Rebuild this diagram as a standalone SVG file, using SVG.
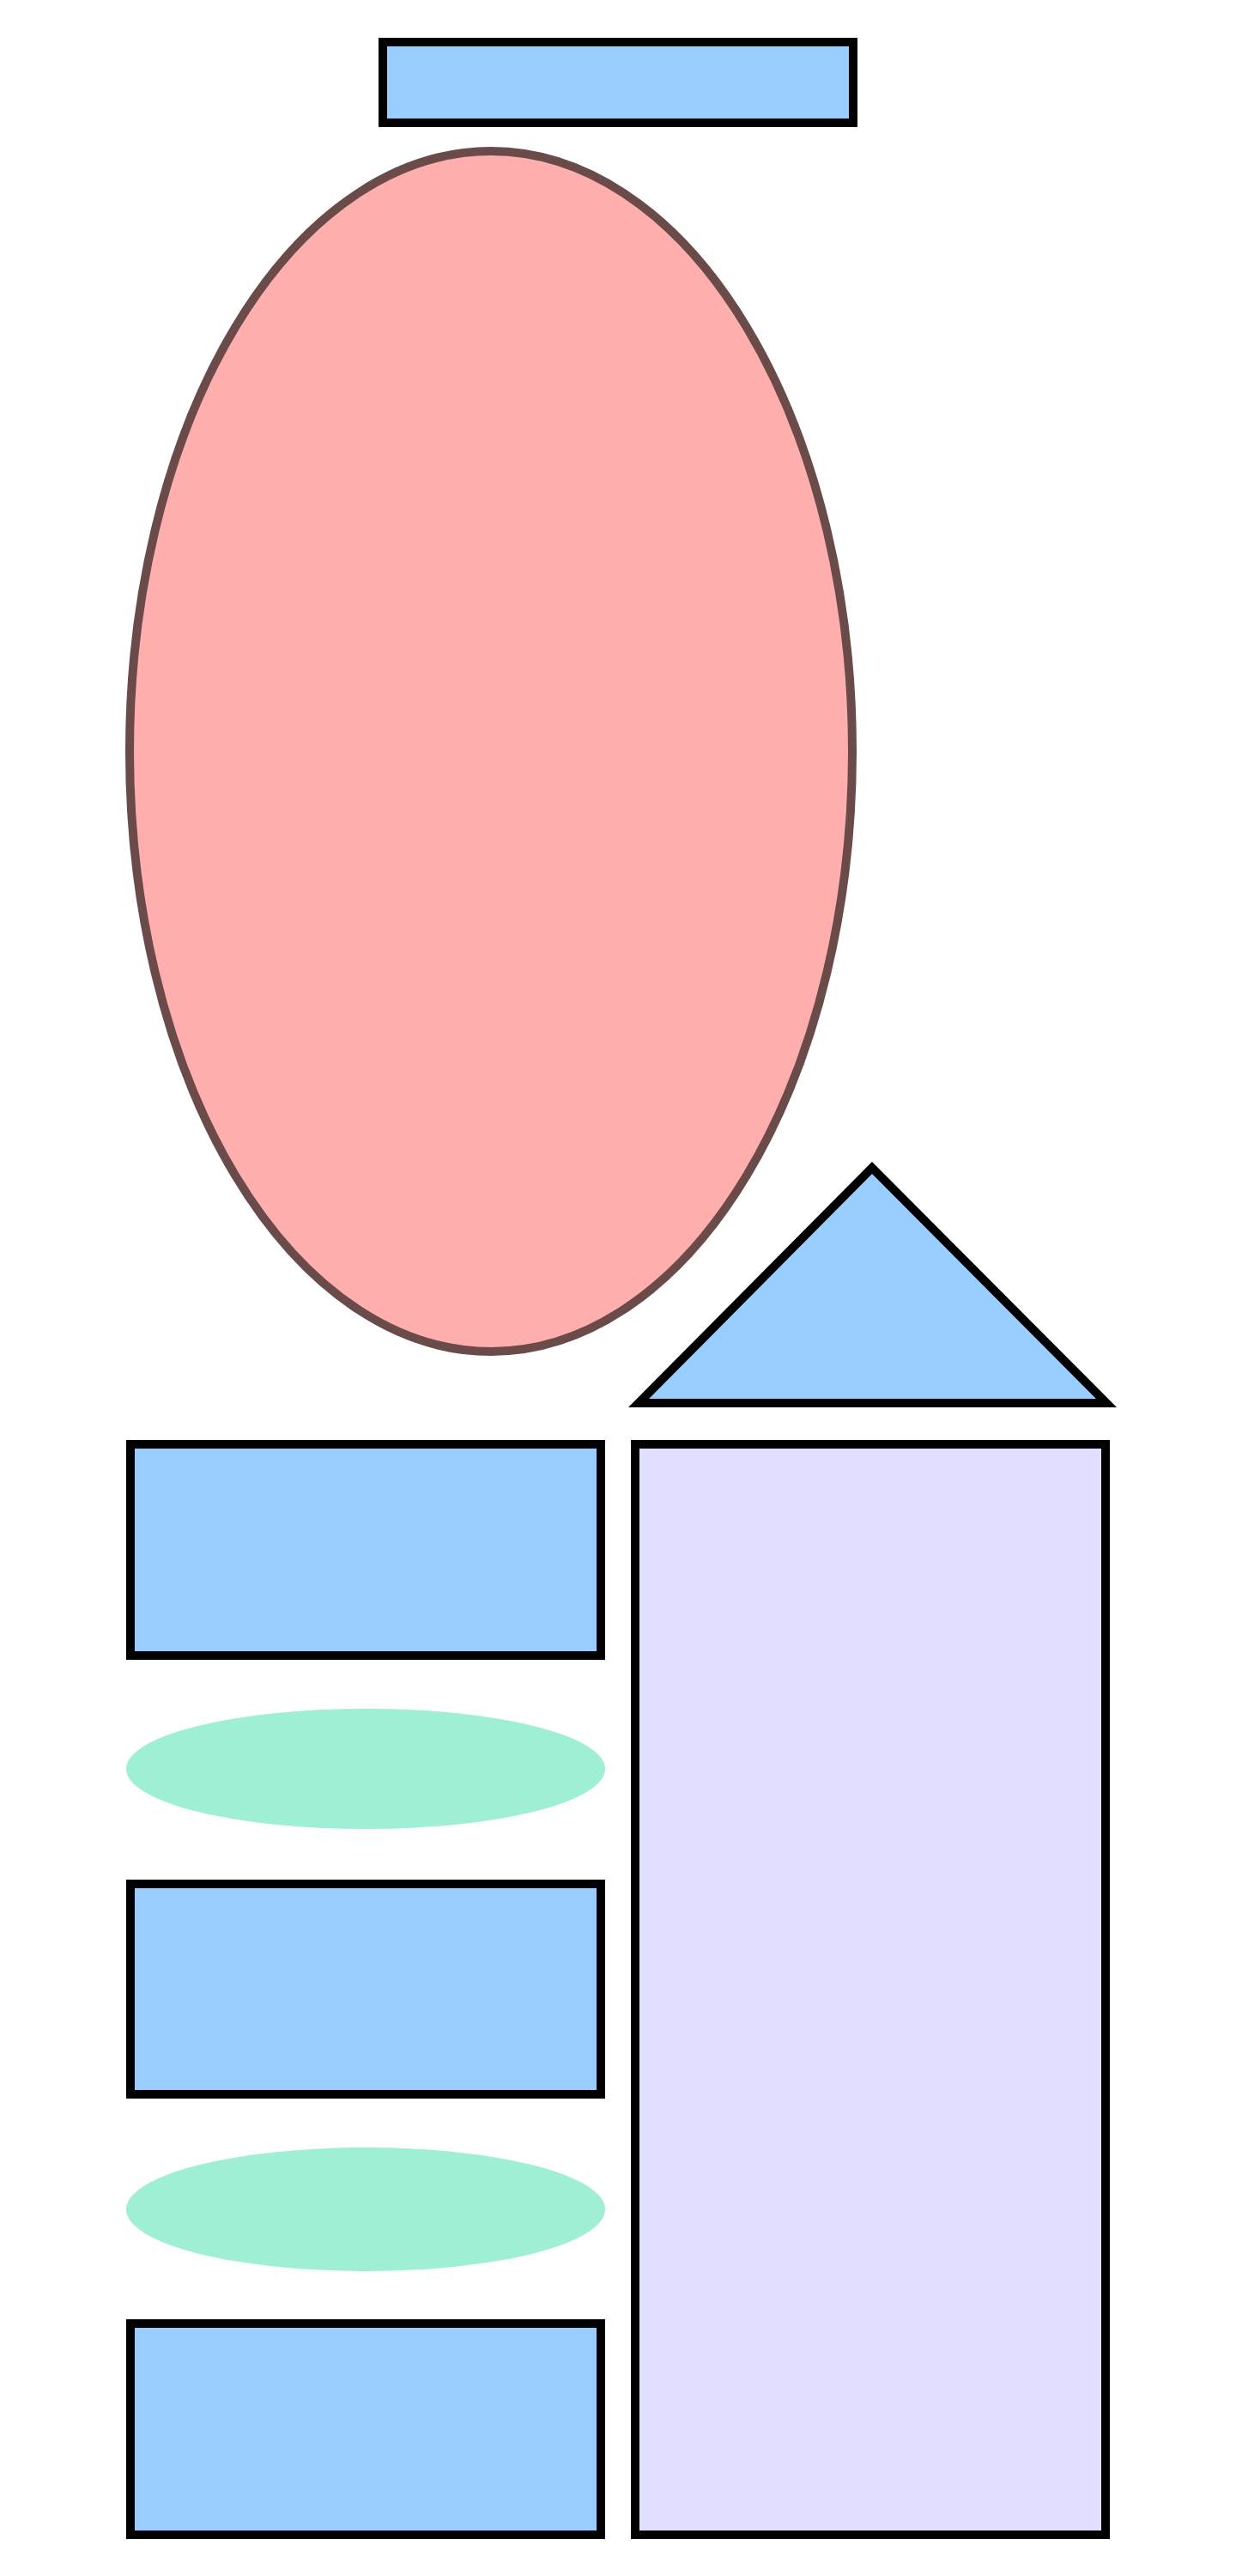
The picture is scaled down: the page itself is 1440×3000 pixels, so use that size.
<svg xmlns="http://www.w3.org/2000/svg" width="1440" height="3000" viewBox="0 0 1440 3000">
<style>
.box{fill:#99ccff;stroke:#000;stroke-width:10}
.pale{fill:#e1dfff;stroke:#000;stroke-width:10}
.oval{fill:#9eefd3;stroke:none}
.big{fill:#ffaeae;stroke:#6b4a4a;stroke-width:10}
</style>
<rect width="1440" height="3000" fill="#fff"/>
<g id="top-rect"><rect class="box" x="446" y="49" width="548" height="94"/></g>
<g id="big-ellipse"><ellipse class="big" cx="572" cy="875" rx="421" ry="699"/></g>
<g id="triangle"><polygon class="box" points="1016,1360 744,1634 1289,1634"/></g>
<g id="rect1"><rect class="box" x="152" y="1682" width="548" height="246"/></g>
<g id="oval1"><ellipse class="oval" cx="426" cy="2060" rx="279" ry="70"/></g>
<g id="rect2"><rect class="box" x="152" y="2194" width="548" height="245"/></g>
<g id="oval2"><ellipse class="oval" cx="426" cy="2573" rx="279" ry="72"/></g>
<g id="rect3"><rect class="box" x="152" y="2706" width="548" height="246"/></g>
<g id="tall-rect"><rect class="pale" x="740" y="1682" width="548" height="1270"/></g>
<g id="connectors"/>
</svg>
